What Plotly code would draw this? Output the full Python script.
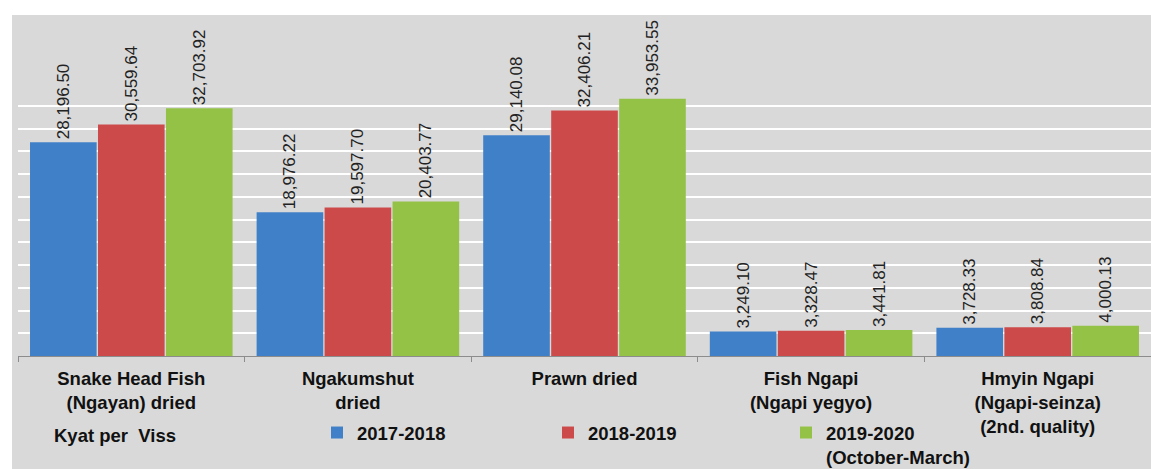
import plotly.graph_objects as go

# Dried fish / ngapi prices (Kyat per Viss)
categories = [
    "Snake Head Fish<br>(Ngayan) dried",
    "Ngakumshut<br>dried",
    "Prawn dried",
    "Fish Ngapi<br>(Ngapi yegyo)",
    "Hmyin Ngapi<br>(Ngapi-seinza)<br>(2nd. quality)",
]
series_names = ["2017-2018", "2018-2019", "2019-2020<br>(October-March)"]
values_2017_2018 = [28196.50, 18976.22, 29140.08, 3249.10, 3728.33]
values_2018_2019 = [30559.64, 19597.70, 32406.21, 3328.47, 3808.84]
values_2019_2020 = [32703.92, 20403.77, 33953.55, 3441.81, 4000.13]
unit_label = "Kyat per\u00a0 Viss"

colors = ["#4080c8", "#cd4a4a", "#94c247"]
FONT = "Liberation Sans, Arial, sans-serif"
BG = "#d9d9d9"
LABEL_SIZE = 18.5

W, H = 1151, 469
ML, MR, MT, MB = 18, 0, 15, 113
plot_w = W - ML - MR
plot_h = H - MT - MB


def px_x(x):
    return (x - ML) / plot_w


def px_y(y):
    return (H - MB - y) / plot_h


fig = go.Figure()
legend_ids = ["legend", "legend2", "legend3"]
for name, vals, col, lg in zip(series_names,
                               [values_2017_2018, values_2018_2019, values_2019_2020],
                               colors, legend_ids):
    fig.add_trace(go.Bar(
        x=categories, y=vals, name=name,
        marker=dict(color=col, line=dict(width=0)),
        text=[f"{v:,.2f}" for v in vals],
        textposition="outside",
        textangle=-90,
        constraintext="none",
        cliponaxis=False,
        textfont=dict(family=FONT, size=17, color="#222222"),
        legend=lg,
    ))

legend_style = dict(orientation="v", bgcolor="rgba(0,0,0,0)", borderwidth=0,
                    font=dict(family=FONT, size=LABEL_SIZE, color="#111111", weight="bold"),
                    xanchor="left", yanchor="top", valign="top",
                    itemclick=False, itemdoubleclick=False)

fig.update_layout(
    width=W, height=H,
    margin=dict(l=ML, r=MR, t=MT, b=MB, autoexpand=False),
    paper_bgcolor="white",
    plot_bgcolor=BG,
    barmode="group",
    bargap=0.1,
    bargroupgap=0.02,
    font=dict(family=FONT, color="#111111"),
    showlegend=True,
    legend=dict(legend_style, x=px_x(317), y=px_y(414)),
    legend2=dict(legend_style, x=px_x(548), y=px_y(414)),
    legend3=dict(legend_style, x=px_x(786), y=px_y(414)),
    xaxis=dict(
        showline=True, linecolor="#8c8c8c", linewidth=1,
        ticks="outside", tickson="boundaries", ticklen=5, tickcolor="#8c8c8c",
        tickfont=dict(family=FONT, size=LABEL_SIZE, color="#111111", weight="bold"),
        ticklabelstandoff=6,
        showgrid=False,
    ),
    yaxis=dict(
        range=[0, 45000],
        tickvals=list(range(3000, 36000, 3000)),
        showticklabels=False,
        showgrid=True, gridcolor="white", gridwidth=2,
        zeroline=False, showline=False, ticks="",
    ),
    shapes=[dict(type="rect", xref="paper", yref="paper", layer="below",
                 x0=px_x(12), x1=1, y0=px_y(H), y1=1,
                 fillcolor=BG, line=dict(width=0))],
    annotations=[dict(text=f"<b>{unit_label}</b>", xref="paper", yref="paper",
                      x=px_x(52), y=px_y(435), xanchor="left", yanchor="middle",
                      showarrow=False,
                      font=dict(family=FONT, size=LABEL_SIZE, color="#111111"))],
)

# drop the browser's default page margin so the figure sits at the window's corner
fig.write_html("out.html", config={"displayModeBar": False},
               post_script="document.body.style.margin='0';")
